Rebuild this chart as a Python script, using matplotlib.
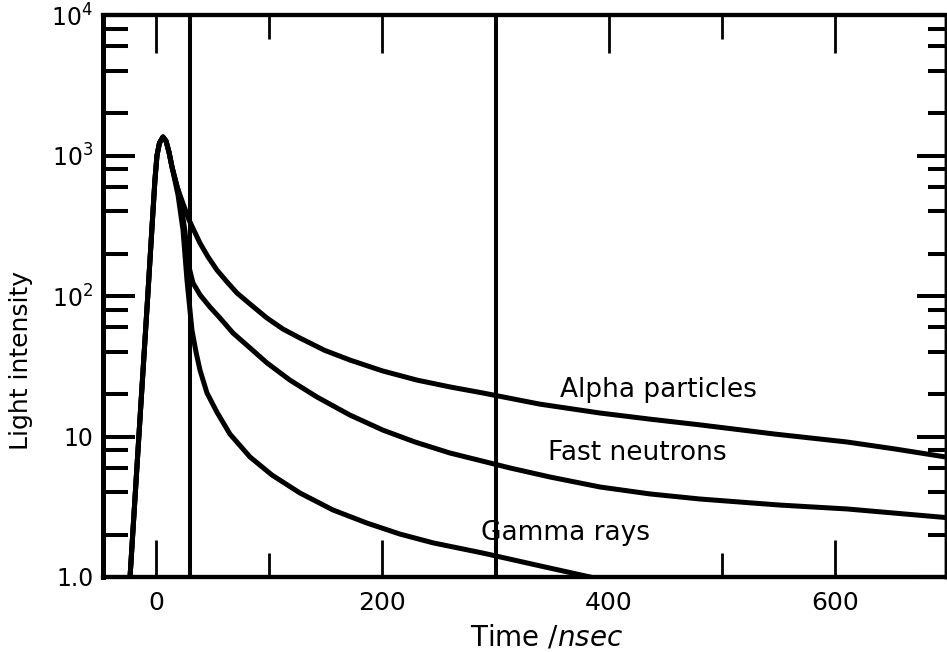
import matplotlib
matplotlib.use("Agg")
import matplotlib.pyplot as plt
from matplotlib.ticker import FixedLocator, LogLocator, NullFormatter

plt.rcParams['font.family'] = ['DejaVu Sans']

# common rising edge and peak (time in nsec, light intensity)
rise_t = [-23.1, -15.4, -7.5, -3.3, -1.1, 0.7, 2.9, 6.0, 8.7, 11.3, 14.0]
rise_v = [1.0, 9.75, 98.4, 348, 670, 1000, 1227, 1355, 1268, 1059, 828]

# decay tails
alpha_t = [18.4, 29.0, 38.7, 45.8, 53.7, 62.6, 71.4, 82.9, 97.9, 112, 127.1,
           149, 171.3, 200, 230.5, 260, 288.8, 339, 392, 436, 480.6, 547,
           610.5, 653, 700]
alpha_v = [597, 348, 238, 190, 153, 126, 105, 87.7, 69.7, 58.2, 50.2,
           41, 35, 29.3, 25.2, 22.5, 20.4, 17.0, 14.7, 13.3, 12.1, 10.4,
           9.14, 8.15, 7.1]

fast_t = [21.0, 25.5, 28.1, 32.5, 38.7, 47.5, 56.4, 67.9, 82.9, 97.9, 118.2,
          142.1, 171.3, 200.4, 228.7, 259.6, 312.7, 348, 392.3, 436.5, 480.6,
          551.3, 610.5, 700]
fast_v = [507, 286, 172, 124, 102, 83.5, 69.7, 54.5, 42.7, 33.4, 25.2,
          19.1, 14.2, 11.1, 9.14, 7.63, 5.97, 5.15, 4.37, 3.90, 3.59,
          3.25, 3.05, 2.64]

gamma_t = [19.3, 23.7, 27.2, 31.6, 35.2, 38.7, 44.9, 53.7, 65.2, 82.9, 102.3,
           127.1, 156.2, 186.3, 215.5, 244.7, 288.8, 339.2, 383.5, 410]
gamma_v = [523, 295, 130, 57.3, 39.9, 29.7, 20.4, 14.9, 10.4, 7.15, 5.32,
           3.96, 3.0, 2.42, 2.02, 1.75, 1.48, 1.20, 1.0, 0.89]

gate_times = [30, 300]

y_ticks = [1, 10, 100, 1000, 10000]
y_labels = ['1.0', '10', '$10^2$', '$10^3$', '$10^4$']
x_major = [0, 200, 400, 600]
x_minor = [100, 300, 500]

fig = plt.figure(figsize=(9.47, 6.52), dpi=100)
ax = fig.add_axes([103 / 947, 75 / 652, (946 - 103) / 947, (577 - 15) / 652])

series = [(alpha_t, alpha_v, 'Alpha particles', (357, 21.3)),
          (fast_t, fast_v, 'Fast neutrons', (346, 7.6)),
          (gamma_t, gamma_v, 'Gamma rays', (287, 2.05))]

for t, v, name, pos in series:
    ax.plot(rise_t + t, rise_v + v, color='black', lw=3.6,
            solid_joinstyle='round', solid_capstyle='round')
    ax.text(pos[0], pos[1], name, fontsize=19, va='center', ha='left')

for g in gate_times:
    ax.axvline(g, color='black', lw=2.9)

ax.set_yscale('log')
ax.set_ylim(1, 1e4)
ax.set_xlim(-47, 698)

ax.set_xticks(x_major)
ax.set_xticks(x_minor, minor=True)
ax.tick_params(axis='x', which='major', direction='in', length=27, width=2,
               top=True, bottom=True, labelsize=18, pad=10)
ax.tick_params(axis='x', which='minor', direction='in', length=17, width=2,
               top=True, bottom=True)
# the bottom tick at 400 is missing in the original
ax.xaxis.get_major_ticks()[2].tick1line.set_visible(False)

ax.yaxis.set_major_locator(FixedLocator(y_ticks))
ax.set_yticklabels(y_labels)
ax.yaxis.set_minor_locator(LogLocator(base=10, subs=[2, 4, 6, 8]))
ax.yaxis.set_minor_formatter(NullFormatter())
ax.tick_params(axis='y', which='major', direction='in', length=23, width=2.9,
               left=True, right=False, labelsize=17, pad=7)
ax.tick_params(axis='y', which='minor', direction='in', length=18, width=2.9,
               left=True, right=False)

# right side ticks are a bit shorter in the original
rt = ax.twinx()
rt.set_yscale('log')
rt.set_ylim(1, 1e4)
rt.yaxis.set_major_locator(FixedLocator(y_ticks))
rt.yaxis.set_minor_locator(LogLocator(base=10, subs=[2, 4, 6, 8]))
rt.yaxis.set_minor_formatter(NullFormatter())
rt.tick_params(axis='y', which='major', direction='in', length=21, width=2.9,
               labelright=False)
rt.tick_params(axis='y', which='minor', direction='in', length=13, width=2.9)

for a in (ax, rt):
    a.spines['left'].set_linewidth(3.5)
    a.spines['bottom'].set_linewidth(3)
    a.spines['top'].set_linewidth(3)
    a.spines['right'].set_linewidth(2.5)

ax.set_ylabel('Light intensity', fontsize=18)
ax.yaxis.set_label_coords(-0.083, 0.386)
ax.set_xlabel(r'Time /$\mathit{nsec}$', fontsize=20)
ax.xaxis.set_label_coords(0.526, -0.083)

fig.savefig('out.png', dpi=100)
